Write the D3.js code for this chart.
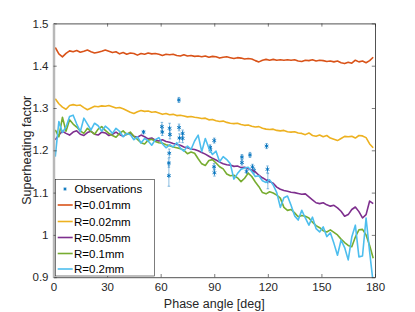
<!DOCTYPE html>
<html>
<head>
<meta charset="utf-8">
<script src="https://cdn.jsdelivr.net/npm/d3@7"></script>
<style>
  body { margin: 0; background: #fff; }
  svg { font-family: "Liberation Sans", Arial, Helvetica, sans-serif; }
</style>
</head>
<body>
<svg id="chart" width="415" height="312"></svg>
<script>
// phase angles used by the model curves (deg)
var angles = d3.range(1, 180, 2);

var r001 = [1.443,1.428,1.421,1.429,1.435,1.433,1.436,1.432,1.434,1.437,1.433,1.430,1.432,1.434,1.437,1.434,1.431,1.433,1.428,1.431,
  1.427,1.430,1.429,1.425,1.429,1.427,1.430,1.428,1.429,1.427,1.424,1.427,1.426,1.427,1.424,1.423,1.426,1.423,1.424,1.422,
  1.423,1.421,1.423,1.420,1.422,1.421,1.418,1.420,1.421,1.419,1.417,1.419,1.418,1.416,1.417,1.416,1.412,1.409,1.413,1.415,
  1.413,1.415,1.413,1.414,1.413,1.414,1.413,1.414,1.411,1.410,1.413,1.412,1.414,1.411,1.413,1.412,1.410,1.411,1.409,1.411,
  1.407,1.405,1.408,1.406,1.413,1.409,1.411,1.407,1.412,1.420];

var r002 = [1.322,1.310,1.302,1.297,1.306,1.308,1.306,1.307,1.301,1.296,1.300,1.304,1.303,1.305,1.304,1.306,1.303,1.300,1.301,1.298,
  1.294,1.290,1.287,1.291,1.294,1.292,1.293,1.290,1.291,1.288,1.285,1.287,1.284,1.285,1.282,1.283,1.281,1.279,1.280,1.278,
  1.277,1.275,1.276,1.272,1.273,1.270,1.268,1.269,1.266,1.264,1.263,1.264,1.261,1.259,1.260,1.257,1.255,1.256,1.252,1.250,
  1.249,1.250,1.247,1.246,1.247,1.244,1.243,1.244,1.241,1.240,1.237,1.241,1.235,1.233,1.236,1.232,1.235,1.229,1.226,1.223,
  1.228,1.233,1.232,1.233,1.229,1.235,1.234,1.230,1.215,1.206];

var r005 = [1.225,1.236,1.245,1.240,1.236,1.243,1.246,1.238,1.235,1.242,1.245,1.238,1.236,1.243,1.241,1.235,1.238,1.243,1.237,1.233,
  1.239,1.240,1.233,1.231,1.236,1.232,1.227,1.229,1.224,1.222,1.225,1.221,1.219,1.216,1.214,1.212,1.208,1.206,1.203,1.202,
  1.199,1.195,1.191,1.186,1.181,1.177,1.172,1.168,1.166,1.165,1.162,1.163,1.159,1.160,1.157,1.153,1.149,1.141,1.135,1.130,
  1.126,1.122,1.113,1.108,1.105,1.103,1.101,1.100,1.098,1.096,1.097,1.090,1.083,1.076,1.074,1.076,1.071,1.068,1.070,1.064,
  1.056,1.044,1.048,1.060,1.066,1.055,1.040,1.048,1.080,1.074];

var r01 = [1.248,1.232,1.278,1.245,1.272,1.262,1.255,1.246,1.240,1.252,1.245,1.238,1.250,1.256,1.247,1.240,1.235,1.231,1.240,1.246,
  1.237,1.243,1.233,1.226,1.218,1.215,1.224,1.226,1.221,1.218,1.217,1.213,1.211,1.208,1.206,1.204,1.200,1.192,1.196,1.193,
  1.180,1.168,1.164,1.176,1.178,1.170,1.161,1.156,1.144,1.140,1.141,1.135,1.126,1.134,1.146,1.138,1.125,1.114,1.100,1.097,
  1.102,1.099,1.094,1.087,1.065,1.058,1.060,1.052,1.043,1.046,1.044,1.040,1.030,1.022,1.017,1.010,1.007,1.012,1.006,1.000,
  0.990,0.982,0.975,0.972,0.995,1.012,1.013,1.000,0.975,0.945];

var r02 = [1.185,1.268,1.242,1.255,1.280,1.283,1.262,1.244,1.276,1.262,1.248,1.264,1.258,1.245,1.257,1.250,1.240,1.252,1.245,1.232,
  1.240,1.237,1.225,1.232,1.217,1.228,1.222,1.212,1.225,1.230,1.215,1.206,1.213,1.208,1.218,1.205,1.198,1.210,1.202,1.222,
  1.236,1.197,1.228,1.205,1.190,1.198,1.173,1.185,1.178,1.168,1.132,1.145,1.155,1.158,1.160,1.150,1.138,1.140,1.128,1.124,
  1.130,1.118,1.100,1.065,1.088,1.092,1.070,1.045,1.035,1.058,1.040,1.023,1.042,1.015,1.007,1.019,0.996,1.005,0.980,0.952,
  0.988,0.970,0.941,0.995,1.023,0.948,0.950,1.040,0.960,0.885];

// observations: phase angle, superheating factor, error half-length
var obsAngle = [50.4,60.7,60.9,65.0,65.2,64.8,64.6,64.6,70.2,70.3,70.5,72.3,72.3,
  87.7,87.8,90.0,89.9,90.1,105.5,105.5,110.0,108.1,111.4,112.3,119.3,119.8,120.0];
var obsValue = [1.243,1.256,1.243,1.252,1.237,1.193,1.170,1.140,1.319,1.254,1.229,1.240,1.228,
  1.207,1.201,1.223,1.161,1.147,1.184,1.171,1.189,1.150,1.161,1.152,1.210,1.155,1.127];
var obsErr = [0.004,0.010,0.008,0.012,0.010,0.010,0.010,0.025,0.006,0.008,0.010,0.008,0.010,
  0.006,0.006,0.006,0.008,0.008,0.006,0.006,0.006,0.004,0.006,0.006,0.006,0.008,0.018];

var seriesNames = ["R=0.01mm","R=0.02mm","R=0.05mm","R=0.1mm","R=0.2mm"];
var seriesColors = ["#D95319","#EDB120","#7E2F8E","#77AC30","#4DBEEE"];
var seriesValues = [r001, r002, r005, r01, r02];

var xTicks = [0,30,60,90,120,150,180];
var yTicks = [0.9,1,1.1,1.2,1.3,1.4,1.5];

var svg = d3.select("#chart");
var mLeft = 53.5, mRight = 375, mTop = 23.4, mBottom = 277.2;
var axisColor = "#262626";

var x = d3.scaleLinear().domain([0,180]).range([mLeft,mRight]);
var y = d3.scaleLinear().domain([0.9,1.5]).range([mBottom,mTop]);

svg.append("defs").append("clipPath").attr("id","plotclip")
  .append("rect").attr("x",mLeft).attr("y",mTop).attr("width",mRight-mLeft).attr("height",mBottom-mTop);

var line = d3.line().x(function(d){ return x(d[0]); }).y(function(d){ return y(d[1]); });
var plot = svg.append("g").attr("clip-path","url(#plotclip)");

// observations with error bars
var obs = obsAngle.map(function(a,i){ return {a:a, v:obsValue[i], e:obsErr[i]}; });
var og = plot.append("g");
og.selectAll("path.err").data(obs).enter().append("path")
  .attr("d", function(d){
    var cx = x(d.a), y1 = y(d.v - d.e), y2 = y(d.v + d.e);
    return "M"+cx+","+y1+"V"+y2+"M"+(cx-1.3)+","+y1+"H"+(cx+1.3)+"M"+(cx-1.3)+","+y2+"H"+(cx+1.3);
  })
  .attr("fill","none").attr("stroke","#0072BD").attr("stroke-opacity",0.5).attr("stroke-width",0.9);

var star = d3.symbol().type(d3.symbolAsterisk).size(13);
og.selectAll("path.star").data(obs).enter().append("path")
  .attr("d", star)
  .attr("transform", function(d){ return "translate("+x(d.a)+","+y(d.v)+")"; })
  .attr("fill","none").attr("stroke","#0072BD").attr("stroke-width",0.9);

seriesValues.forEach(function(vals,i){
  plot.append("path")
    .datum(angles.map(function(a,j){ return [a, vals[j]]; }))
    .attr("d", line)
    .attr("fill","none")
    .attr("stroke", seriesColors[i])
    .attr("stroke-width",1.6)
    .attr("stroke-linejoin","round");
});

// axes, ticks inward on all four sides
var tickLen = 3.2;
var xb = svg.append("g").attr("transform","translate(0,"+mBottom+")")
  .call(d3.axisBottom(x).tickValues(xTicks).tickSizeInner(-tickLen).tickSizeOuter(0).tickPadding(6));
var xt = svg.append("g").attr("transform","translate(0,"+mTop+")")
  .call(d3.axisTop(x).tickValues(xTicks).tickSizeInner(-tickLen).tickSizeOuter(0).tickFormat(""));
var yl = svg.append("g").attr("transform","translate("+mLeft+",0)")
  .call(d3.axisLeft(y).tickValues(yTicks).tickSizeInner(-tickLen).tickSizeOuter(0).tickPadding(5)
    .tickFormat(function(d){ return d === 1 ? "1" : d3.format(".1f")(d); }));
var yr = svg.append("g").attr("transform","translate("+mRight+",0)")
  .call(d3.axisRight(y).tickValues(yTicks).tickSizeInner(-tickLen).tickSizeOuter(0).tickFormat(""));

[xb,xt,yl,yr].forEach(function(g){
  g.select(".domain").attr("stroke",axisColor).attr("stroke-width",0.8);
  g.selectAll(".tick line").attr("stroke",axisColor).attr("stroke-width",0.6);
  g.selectAll("text").attr("fill",axisColor).style("font-size","11.5px")
    .style("font-family","'Liberation Sans', Arial, sans-serif");
});
yl.select(".domain").attr("stroke","#b8b8b8").attr("stroke-width",2.5);

svg.append("text")
  .attr("x",(mLeft+mRight)/2).attr("y",307.5)
  .attr("text-anchor","middle").attr("fill",axisColor).style("font-size","12.5px")
  .text("Phase angle [deg]");

svg.append("text")
  .attr("transform","translate(31,"+((mTop+mBottom)/2)+") rotate(-90)")
  .attr("text-anchor","middle").attr("fill",axisColor).style("font-size","12.5px")
  .text("Superheating factor");

// legend
var lg = svg.append("g");
lg.append("rect").attr("x",55.5).attr("y",179.5).attr("width",99).attr("height",96.5)
  .attr("fill","#fff").attr("stroke",axisColor).attr("stroke-width",0.6);
var rowY = [189,205,221.5,237.5,253.5,269];
lg.append("path").attr("d", d3.symbol().type(d3.symbolAsterisk).size(8))
  .attr("transform","translate(65,"+rowY[0]+")")
  .attr("fill","none").attr("stroke","#0072BD").attr("stroke-width",1);
lg.append("text").attr("x",74.5).attr("y",rowY[0]+4).attr("fill","#000").style("font-size","11.5px").text("Observations");
seriesNames.forEach(function(name,i){
  var yy = rowY[i+1];
  lg.append("line").attr("x1",57.7).attr("x2",72.7).attr("y1",yy).attr("y2",yy)
    .attr("stroke",seriesColors[i]).attr("stroke-width",1.6);
  lg.append("text").attr("x",74).attr("y",yy+4).attr("fill","#000").style("font-size","11.5px").text(name);
});
</script>
</body>
</html>
